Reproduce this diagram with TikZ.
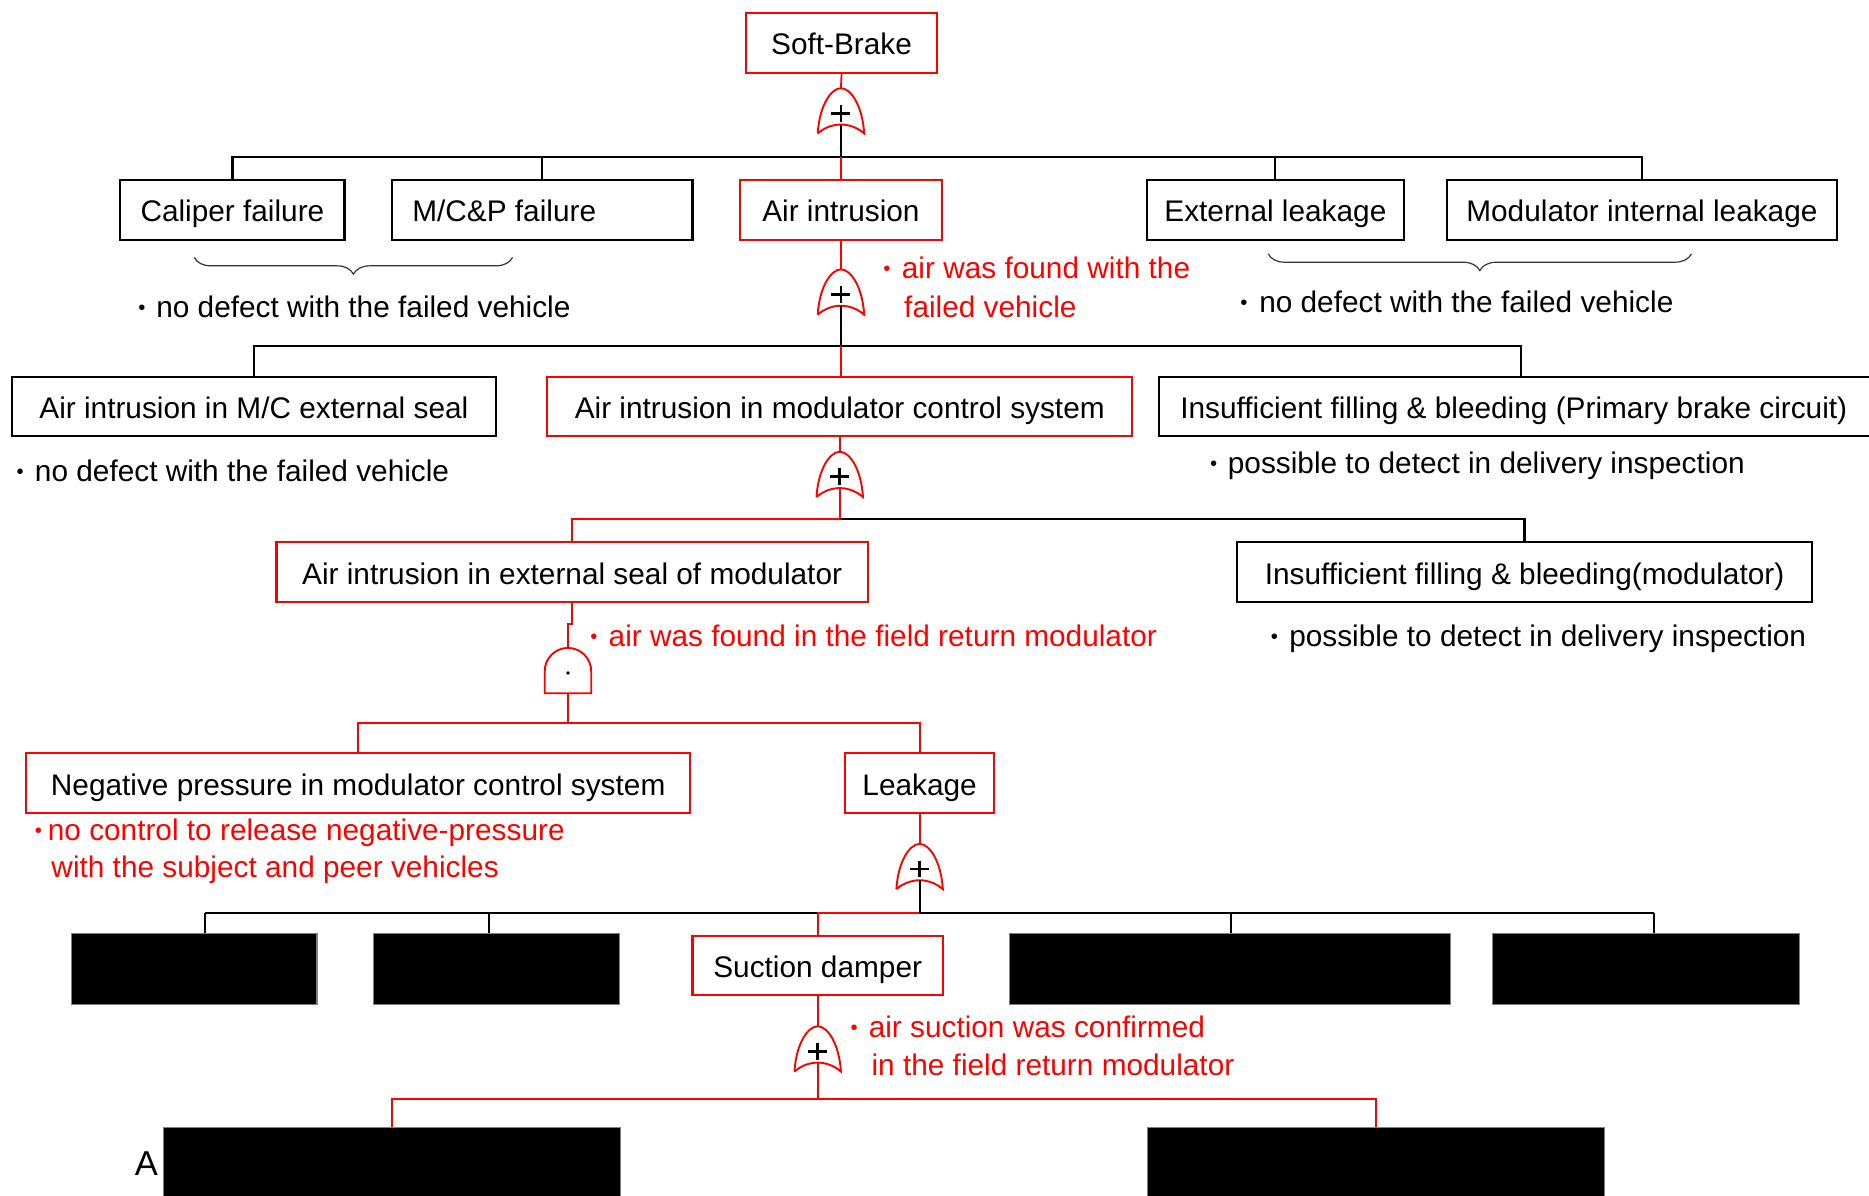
\documentclass[tikz,border=0pt]{standalone}
\usepackage{fontspec}
\setmainfont{Liberation Sans}
\usetikzlibrary{decorations.pathreplacing}
\newcommand{\bul}{\raisebox{2.5pt}{\fontsize{17}{17}\selectfont •}}
\begin{document}
\begin{tikzpicture}[x=1pt,y=-1pt,
  box/.style={draw, line width=1.8pt, minimum height=50pt, inner sep=0pt,
    text height=25pt, text depth=5pt, font=\fontsize{25}{30}\selectfont},
  rbox/.style={box, draw=red},
  blk/.style={draw=gray, line width=1pt, fill=black, inner sep=0pt},
  bus/.style={line width=1.8pt},
  rbus/.style={line width=1.8pt, draw=red},
  rline/.style={line width=1.5pt, draw=red},
  note/.style={anchor=base west, inner sep=0pt, font=\fontsize{25}{30}\selectfont},
  rnote/.style={note, text=red},
  brc/.style={decorate, decoration={brace, mirror, amplitude=14pt, aspect=0.5}, line width=1pt, draw=black!80},
  orgate/.pic={
    \draw[red, line width=1.6pt] (-19.5,38) .. controls (-18,14) and (-8,0) .. (0,0)
      .. controls (8,0) and (18,14) .. (19.5,38)
      .. controls (8,28) and (-8,28) .. (-19.5,38);
    \draw[line width=2.2pt] (-8,21) -- (8,21) (0,14) -- (0,28);
    \coordinate (-top) at (0,0);
    \coordinate (-out) at (0,30.5);
  },
  andgate/.pic={
    \draw[red, line width=1.6pt, line join=miter] (-19.5,38) -- (-19.5,19.5) .. controls (-19.5,8.7) and (-10.8,0) .. (0,0)
      .. controls (10.8,0) and (19.5,8.7) .. (19.5,19.5) -- (19.5,38) -- cycle;
    \fill (0,21) circle[radius=1.6];
    \coordinate (-top) at (0,0);
    \coordinate (-out) at (0,38);
  }
]
\clip (0,0) rectangle (1568,1003);
\fill[white] (0,0) rectangle (1568,1003);

% ---------- level 1
\node[rbox, minimum width=160pt] (soft) at (706,36) {Soft-Brake};
\pic (g1) at (705.5,74) {orgate};
\coordinate (b1) at (705.5,131.5);

% ---------- level 2
\node[box, minimum width=188pt] (cal) at (195,176) {Caliper failure};
\node[box, minimum width=252pt] (mcp) at (455,176) {M/C\&P failure\kern64pt};
\node[rbox, minimum width=169pt] (air) at (705.5,176) {Air intrusion};
\node[box, minimum width=216pt] (ext) at (1070,176) {External leakage};
\node[box, minimum width=327pt] (mil) at (1377.5,176) {Modulator internal leakage};

\draw[rline] (soft.south) -- (g1-top);
\draw[bus] (cal.north) |- (b1);
\draw[bus] (mcp.north) |- (b1);
\draw[bus] (mil.north) |- (b1);
\draw[bus] (ext.north) |- (b1);
\draw[bus] (g1-out) -- (b1);
\draw[rline] (b1) -- (air.north);

\coordinate (br1a) at (163,216);
\coordinate (br1b) at (430,216);
\draw[brc] (br1a) -- (br1b);
\coordinate (br2a) at (1064,213);
\coordinate (br2b) at (1419,213);
\draw[brc] (br2a) -- (br2b);

\node[note] (n1) at (115.8,266) {\bul\hspace{9.2pt}no defect with the failed vehicle};
\node[note] (n2) at (1040.3,262) {\bul\hspace{10pt}no defect with the failed vehicle};
\node[rnote] (n3a) at (741,234) {\bul\hspace{9.5pt}air was found with the};
\node[rnote] (n3b) at (758.4,266) {failed vehicle};

% ---------- level 3
\pic (g2) at (705.5,226) {orgate};
\coordinate (b2) at (705.5,290);
\node[box, minimum width=406pt] (mce) at (213,341) {Air intrusion in M/C external seal};
\node[rbox, minimum width=491pt] (amc) at (704.5,341) {Air intrusion in modulator control system};
\node[box, minimum width=608pt] (ifp) at (1276,341) {Insufficient filling \& bleeding (Primary brake circuit)\kern12pt};

\draw[rline] (air.south) -- (g2-top);
\draw[bus] (mce.north) |- (b2);
\draw[bus] (ifp.north) |- (b2);
\draw[bus] (g2-out) -- (b2);
\draw[rline] (b2) -- (b2 |- amc.north);

\node[note] (n4) at (13.8,404) {\bul\hspace{9.4pt}no defect with the failed vehicle};
\node[note] (n5) at (1015,397) {\bul\hspace{9pt}possible to detect in delivery inspection};

% ---------- level 4
\pic (g3) at (704.5,379) {orgate};
\coordinate (b3) at (704.5,435.5);
\node[rbox, minimum width=496pt] (aes) at (480,480) {Air intrusion in external seal of modulator};
\node[box, minimum width=482pt] (ifm) at (1279,480) {Insufficient filling \& bleeding(modulator)};

\draw[rline] (amc.south) -- (g3-top);
\draw[bus] (b3) -| (ifm.north);
\draw[rbus] (b3) -| (aes.north);
\draw[rbus] (g3-out) -- (b3);

\node[note] (n6) at (1066,542) {\bul\hspace{9.5pt}possible to detect in delivery inspection};
\node[rnote] (n7) at (495,542.5) {\bul\hspace{9.5pt}air was found in the field return modulator};

% ---------- level 5
\pic (g4) at (476.5,543.6) {andgate};
\coordinate (j4) at (476.5,523.5);
\coordinate (b4) at (476.5,606.5);
\node[rbox, minimum width=557pt] (neg) at (300.5,657) {Negative pressure in modulator control system};
\node[rbox, minimum width=125pt] (leak) at (771.5,657) {Leakage};

\draw[rline] (aes.south) |- (j4) -- (g4-top);
\draw[rbus] (g4-out) -- (b4);
\draw[rbus] (neg.north) |- (b4) -| (leak.north);

\node[rnote] (n8a) at (29,705) {\bul\hspace{5pt}no control to release negative-pressure};
\node[rnote] (n8b) at (43,736) {with the subject and peer vehicles};

% ---------- level 6
\pic (g5) at (771.5,708) {orgate};
\coordinate (b5) at (771.5,766);
\coordinate (d1) at (172,766);
\coordinate (d2) at (410.5,766);
\coordinate (d4) at (1033,766);
\coordinate (d5) at (1387.6,766);
\node[blk, minimum width=206pt, minimum height=60pt] (k1) at (163,813) {};
\node[blk, minimum width=206pt, minimum height=60pt] (k2) at (416.5,813) {};
\node[rbox, minimum width=210pt] (suc) at (686,810) {Suction damper};
\node[blk, minimum width=370pt, minimum height=60pt] (k3) at (1032,813) {};
\node[blk, minimum width=257.5pt, minimum height=60pt] (k4) at (1381.2,813) {};

\draw[rline] (leak.south) -- (g5-top);
\draw[bus] (d1) -- (d5);
\draw[bus] (d1) -- (d1 |- k1.north);
\draw[bus] (d2) -- (d2 |- k2.north);
\draw[bus] (d4) -- (d4 |- k3.north);
\draw[bus] (d5) -- (d5 |- k4.north);
\draw[rbus] (b5) -| (suc.north);
\draw[bus] (g5-out) -- (b5);

\node[rnote] (n9a) at (713.5,870) {\bul\hspace{9.2pt}air suction was confirmed};
\node[rnote] (n9b) at (731,902) {in the field return modulator};

% ---------- level 7
\pic (g6) at (686,861) {orgate};
\coordinate (b6) at (686,922);
\node[note, font=\fontsize{29}{34}\selectfont] (aa) at (113,986) {A};
\node[blk, minimum width=383.5pt, minimum height=74pt] (kA) at (329,983) {};
\node[blk, minimum width=383pt, minimum height=74pt] (kB) at (1154.5,983) {};

\draw[rline] (suc.south) -- (g6-top);
\draw[rbus] (g6-out) -- (b6);
\draw[rbus] (kA.north) |- (b6) -| (kB.north);
\end{tikzpicture}
\end{document}
